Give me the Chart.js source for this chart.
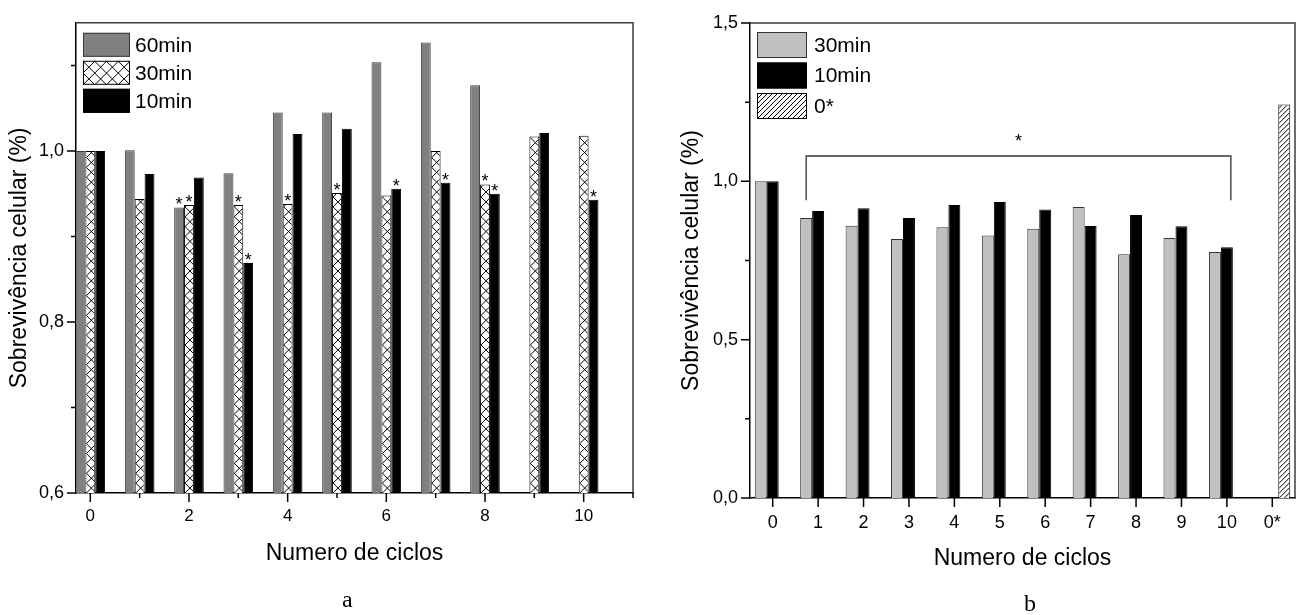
<!DOCTYPE html>
<html>
<head>
<meta charset="utf-8">
<script src="https://cdn.jsdelivr.net/npm/chart.js@4.4.1/dist/chart.umd.min.js"></script>
<style>
  body { margin: 0; background: #fff; width: 1298px; height: 615px; overflow: hidden; position: relative; }
  canvas { position: absolute; top: 0; }
  #chartA { left: 0; }
  #chartB { left: 649px; }
  .panel { position: absolute; font-family: 'Liberation Serif', 'Times New Roman', serif; font-size: 24px; line-height: 1; color: #000; }
</style>
</head>
<body>
<canvas id="chartA" width="649" height="615"></canvas>
<canvas id="chartB" width="649" height="615"></canvas>
<div class="panel" style="left:342px; top:587px">a</div>
<div class="panel" style="left:1024px; top:591px">b</div>
<script>
// Panel a: survival per cycle number for three exposure times
const cyclesA = [0, 1, 2, 3, 4, 5, 6, 7, 8, 9, 10];
const surv60A = [1.000, 1.001, 0.934, 0.974, 1.045, 1.045, 1.104, 1.127, 1.077, null, null];
const surv30A = [1.000, 0.944, 0.937, 0.937, 0.938, 0.951, 0.948, 1.000, 0.961, 1.017, 1.018];
const surv10A = [1.000, 0.973, 0.969, 0.869, 1.020, 1.026, 0.956, 0.963, 0.950, 1.021, 0.943];
// significance marks (*) above bars
const sig60A = [0, 0, 1, 0, 0, 0, 0, 0, 0, 0, 0];
const sig30A = [0, 0, 1, 1, 1, 1, 0, 0, 1, 0, 0];
const sig10A = [0, 0, 0, 1, 0, 0, 1, 1, 1, 0, 1];

// Panel b: 30min / 10min per cycle plus the 0* control
const labelsB = ['0', '1', '2', '3', '4', '5', '6', '7', '8', '9', '10', '0*'];
const surv30B = [1.000, 0.884, 0.860, 0.818, 0.855, 0.829, 0.850, 0.919, 0.770, 0.821, 0.777, null];
const surv10B = [1.000, 0.906, 0.915, 0.884, 0.925, 0.935, 0.911, 0.859, 0.894, 0.858, 0.792, null];
const controlB = [null, null, null, null, null, null, null, null, null, null, null, 1.243];
// bracket from cycle 1 to cycle 10, marked with *
const bracketCycles = [1, 10];
const bracketLevels = [1.08, 0.94];

const FONT = "'Liberation Sans', Arial, Helvetica, sans-serif";

function fmtComma(v) {
    return v.toFixed(1).replace('.', ',');
}

// cross-hatch ("cross") or single diagonal ("diag") lines inside a rect
function drawHatch(ctx, left, top, w, h, kind, step) {
    if (w <= 0 || h <= 0) return;
    ctx.save();
    ctx.beginPath();
    ctx.rect(left, top, w, h);
    ctx.clip();
    ctx.strokeStyle = '#000';
    ctx.lineWidth = 1;
    ctx.beginPath();
    const bottom = top + h;
    const k0 = -Math.ceil(w / step) - 1;
    const k1 = Math.ceil((h + w) / step) + 1;
    for (let k = k0; k <= k1; k++) {
        const y = bottom - k * step;
        ctx.moveTo(left - 1, y + 1);
        ctx.lineTo(left + w + 1, y - w - 1);
        if (kind === 'cross') {
            ctx.moveTo(left - 1, y - 1);
            ctx.lineTo(left + w + 1, y + w + 1);
        }
    }
    ctx.stroke();
    ctx.restore();
}

function rawValue(raw) {
    return raw !== null && typeof raw === 'object' ? raw.y : raw;
}

const hatchBars = {
    id: 'hatchBars',
    afterDatasetsDraw(chart) {
        const ctx = chart.ctx;
        const area = chart.chartArea;
        chart.data.datasets.forEach((ds, i) => {
            if (!ds.hatch) return;
            chart.getDatasetMeta(i).data.forEach((bar, j) => {
                if (rawValue(ds.data[j]) == null) return;
                const p = bar.getProps(['x', 'y', 'base', 'width'], true);
                const bw = ds.borderWidth || 0;
                const left = p.x - p.width / 2 + bw;
                const top = Math.min(p.y, p.base) + bw;
                // bars start below the axis minimum, so stop at the plot bottom
                const bottom = Math.min(Math.max(p.y, p.base), area.bottom);
                drawHatch(ctx, left, top, p.width - 2 * bw, bottom - top, ds.hatch,
                    ds.hatch === 'cross' ? p.width : ds.hatchStep);
            });
        });
    }
};

const starMarks = {
    id: 'starMarks',
    afterDatasetsDraw(chart) {
        const ctx = chart.ctx;
        ctx.save();
        ctx.fillStyle = '#000';
        ctx.font = '18px ' + FONT;
        ctx.textAlign = 'center';
        ctx.textBaseline = 'alphabetic';
        chart.data.datasets.forEach((ds, i) => {
            if (!ds.stars) return;
            chart.getDatasetMeta(i).data.forEach((bar, j) => {
                if (!ds.stars[j] || rawValue(ds.data[j]) == null) return;
                ctx.fillText('*', bar.x, bar.y + 3);
            });
        });
        ctx.restore();
    }
};

// outward tick marks (long where labelled) plus the top/right frame
const tickMarks = {
    id: 'tickMarks',
    afterDraw(chart, args, o) {
        const ctx = chart.ctx;
        const xs = chart.scales.x, ys = chart.scales.y;
        const a = chart.chartArea;
        ctx.save();
        ctx.strokeStyle = '#000';
        ctx.lineWidth = 1.5;
        ctx.beginPath();
        xs.ticks.forEach((t, i) => {
            const px = xs.getPixelForTick(i);
            const len = t.label !== '' ? o.major : o.minor;
            ctx.moveTo(px, a.bottom);
            ctx.lineTo(px, a.bottom + len);
        });
        ys.ticks.forEach((t, i) => {
            const py = ys.getPixelForTick(i);
            const len = t.label !== '' ? o.major : o.minor;
            ctx.moveTo(a.left, py);
            ctx.lineTo(a.left - len, py);
        });
        ctx.stroke();
        ctx.strokeStyle = '#3c3c3c';
        ctx.lineWidth = 1.5;
        ctx.beginPath();
        ctx.moveTo(a.left, a.top);
        ctx.lineTo(a.right, a.top);
        ctx.lineTo(a.right, a.bottom);
        ctx.stroke();
        ctx.restore();
    }
};

const insideLegend = {
    id: 'insideLegend',
    afterDraw(chart, args, o) {
        const ctx = chart.ctx;
        const a = chart.chartArea;
        ctx.save();
        chart.data.datasets.forEach((ds, i) => {
            const bx = a.left + o.x;
            const by = a.top + o.y + i * o.pitch;
            ctx.fillStyle = ds.backgroundColor;
            ctx.fillRect(bx, by, o.boxW, o.boxH);
            if (ds.hatch) {
                drawHatch(ctx, bx, by, o.boxW, o.boxH, ds.hatch, ds.hatch === 'cross' ? o.crossStep : ds.hatchStep);
            }
            ctx.strokeStyle = ds.borderColor;
            ctx.lineWidth = 1;
            ctx.strokeRect(bx + 0.5, by + 0.5, o.boxW - 1, o.boxH - 1);
            ctx.fillStyle = '#000';
            ctx.font = o.fontSize + 'px ' + FONT;
            ctx.textAlign = 'left';
            ctx.textBaseline = 'middle';
            ctx.fillText(ds.label, bx + o.boxW + o.gap, by + o.boxH / 2 + 1);
        });
        ctx.restore();
    }
};

const bracket = {
    id: 'bracket',
    afterDatasetsDraw(chart, args, o) {
        const ctx = chart.ctx;
        const ys = chart.scales.y;
        const left = chart.getDatasetMeta(0).data[o.cycles[0]].x;
        const right = chart.getDatasetMeta(1).data[o.cycles[1]].x + 4;
        const yTop = ys.getPixelForValue(o.levels[0]);
        const yFoot = ys.getPixelForValue(o.levels[1]);
        ctx.save();
        ctx.strokeStyle = '#333';
        ctx.lineWidth = 1.3;
        ctx.beginPath();
        ctx.moveTo(left, yFoot);
        ctx.lineTo(left, yTop);
        ctx.lineTo(right, yTop);
        ctx.lineTo(right, yFoot);
        ctx.stroke();
        ctx.fillStyle = '#000';
        ctx.font = '18px ' + FONT;
        ctx.textAlign = 'center';
        ctx.fillText('*', (left + right) / 2, yTop - 9);
        ctx.restore();
    }
};

function points(values) {
    return cyclesA.map((c, i) => ({ x: c, y: values[i] }));
}

function axisTitle(text, padding) {
    return { display: true, text: text, color: '#000', font: { family: FONT, size: 23 }, padding: padding };
}

new Chart(document.getElementById('chartA'), {
    type: 'bar',
    data: {
        datasets: [
            { label: '60min', data: points(surv60A), stars: sig60A, backgroundColor: '#808080', borderColor: '#3a3a3a', borderWidth: 1 },
            { label: '30min', data: points(surv30A), stars: sig30A, backgroundColor: '#ffffff', borderColor: '#000000', borderWidth: 1, hatch: 'cross' },
            { label: '10min', data: points(surv10A), stars: sig10A, backgroundColor: '#000000', borderColor: '#000000', borderWidth: 1 }
        ]
    },
    options: {
        responsive: false,
        animation: false,
        devicePixelRatio: 1,
        layout: { padding: { top: 10, right: 16, left: 0, bottom: 0 } },
        datasets: { bar: { categoryPercentage: 0.6, barPercentage: 1 } },
        plugins: {
            legend: { display: false },
            tooltip: { enabled: false },
            tickMarks: { major: 9, minor: 5 },
            insideLegend: { x: 7, y: 10, pitch: 28, boxW: 47, boxH: 24, gap: 5, fontSize: 21, crossStep: 11.75 }
        },
        scales: {
            x: {
                type: 'linear',
                min: -0.29,
                max: 11,
                offset: false,
                grid: { display: false, drawTicks: false },
                border: { color: '#000', width: 1.5 },
                ticks: {
                    stepSize: 1, maxTicksLimit: 15, includeBounds: false, autoSkip: false, maxRotation: 0,
                    padding: 13, color: '#000', font: { family: FONT, size: 17 },
                    callback: v => (v % 2 === 0 ? String(v) : '')
                },
                title: axisTitle('Numero de ciclos', { top: 0, bottom: 48 }),
                afterFit: s => { s.height = 122; }
            },
            y: {
                min: 0.6,
                max: 1.15,
                grid: { display: false, drawTicks: false },
                border: { color: '#000', width: 1.5 },
                ticks: {
                    stepSize: 0.1, includeBounds: false,
                    padding: 12, color: '#000', font: { family: FONT, size: 18 },
                    callback: v => (Math.round(v * 10) % 2 === 0 ? fmtComma(v) : '')
                },
                title: axisTitle('Sobrevivência celular (%)', { top: 6, bottom: 0 }),
                afterFit: s => { s.width = 76; }
            }
        }
    },
    plugins: [hatchBars, starMarks, tickMarks, insideLegend]
});

new Chart(document.getElementById('chartB'), {
    type: 'bar',
    data: {
        labels: labelsB,
        datasets: [
            { label: '30min', data: surv30B, backgroundColor: '#c0c0c0', borderColor: '#333333', borderWidth: 1 },
            { label: '10min', data: surv10B, backgroundColor: '#000000', borderColor: '#000000', borderWidth: 1 },
            { label: '0*', data: controlB, backgroundColor: '#ffffff', borderColor: '#000000', borderWidth: 1, hatch: 'diag', hatchStep: 5 }
        ]
    },
    options: {
        responsive: false,
        animation: false,
        devicePixelRatio: 1,
        layout: { padding: { top: 23, right: 3, left: 0, bottom: 0 } },
        datasets: { bar: { categoryPercentage: 0.79, barPercentage: 1 } },
        plugins: {
            legend: { display: false },
            tooltip: { enabled: false },
            tickMarks: { major: 9, minor: 5 },
            insideLegend: { x: 7, y: 9, pitch: 30.5, boxW: 50, boxH: 26, gap: 7, fontSize: 21, crossStep: 12 },
            bracket: { cycles: bracketCycles, levels: bracketLevels }
        },
        scales: {
            x: {
                grid: { display: false, drawTicks: false },
                border: { color: '#000', width: 1.5 },
                ticks: { autoSkip: false, maxRotation: 0, padding: 14, color: '#000', font: { family: FONT, size: 18 } },
                title: axisTitle('Numero de ciclos', { top: 0, bottom: 43 }),
                afterFit: s => { s.height = 117; }
            },
            y: {
                min: 0,
                max: 1.5,
                grid: { display: false, drawTicks: false },
                border: { color: '#000', width: 1.5 },
                ticks: {
                    stepSize: 0.25,
                    padding: 12, color: '#000', font: { family: FONT, size: 18 },
                    callback: v => (Math.round(v * 4) % 2 === 0 ? fmtComma(v) : '')
                },
                title: axisTitle('Sobrevivência celular (%)', { top: 29, bottom: 0 }),
                afterFit: s => { s.width = 101; }
            }
        }
    },
    plugins: [hatchBars, bracket, tickMarks, insideLegend]
});
</script>
</body>
</html>
